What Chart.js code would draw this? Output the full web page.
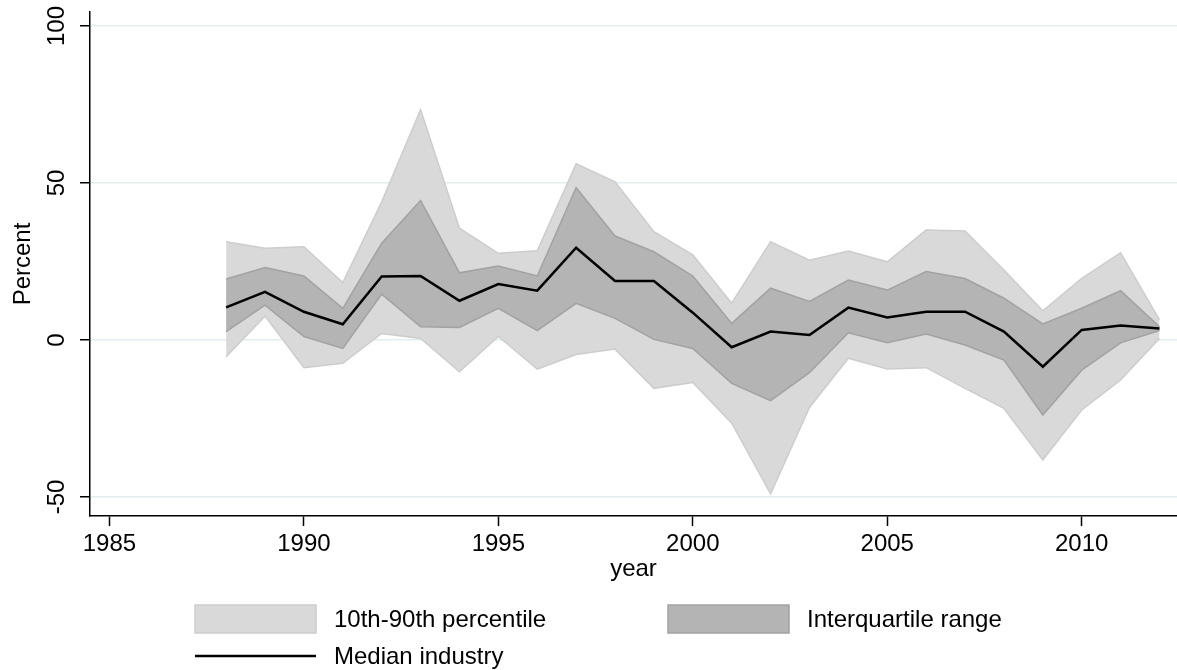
<!DOCTYPE html>
<html>
<head>
<meta charset="utf-8">
<script src="https://cdn.jsdelivr.net/npm/chart.js@4.4.1/dist/chart.umd.min.js"></script>
<style>
  html, body { margin: 0; padding: 0; background: #ffffff; }
  canvas { display: block; }
</style>
</head>
<body>
<canvas id="chart" width="1177" height="670"></canvas>
<script>
// Annual growth distribution across industries (percent)
const years = [1988, 1989, 1990, 1991, 1992, 1993, 1994, 1995, 1996, 1997, 1998, 1999, 2000,
               2001, 2002, 2003, 2004, 2005, 2006, 2007, 2008, 2009, 2010, 2011, 2012];

const p10 = [-5.3, 7.6, -8.8, -7.4, 2.1, 0.5, -10.1, 1.1, -9.3, -4.6, -2.9, -15.4, -13.5,
             -26.5, -49.0, -21.5, -5.8, -9.2, -8.8, -15.4, -21.8, -38.2, -22.3, -12.7, 0.5];

const p25 = [2.7, 11.1, 1.1, -2.7, 14.6, 4.2, 4.0, 10.1, 3.0, 11.7, 6.9, 0.2, -2.7,
             -13.8, -19.3, -10.4, 2.3, -0.9, 1.9, -1.6, -6.4, -23.9, -9.6, -0.9, 3.0];

const median = [10.4, 15.3, 9.0, 5.0, 20.2, 20.4, 12.5, 17.8, 15.7, 29.4, 18.8, 18.8, 8.7,
                -2.3, 2.7, 1.6, 10.3, 7.2, 9.0, 9.0, 2.7, -8.5, 3.2, 4.6, 3.7];

const p75 = [19.4, 23.1, 20.4, 10.1, 30.8, 44.4, 21.4, 23.6, 20.4, 48.5, 33.1, 28.1, 20.4,
             5.3, 16.5, 12.3, 19.1, 15.9, 21.8, 19.6, 13.3, 5.1, 10.1, 15.7, 4.2];

const p90 = [31.3, 29.2, 29.7, 18.3, 44.0, 73.4, 35.6, 27.6, 28.4, 56.1, 50.4, 34.5, 27.1,
             11.7, 31.3, 25.4, 28.3, 24.9, 35.0, 34.7, 22.3, 9.3, 19.6, 27.8, 6.4];

const xTickValues = [1985, 1990, 1995, 2000, 2005, 2010];
const yTickValues = [-50, 0, 50, 100];

const seriesLabels = ['10th-90th percentile', 'Interquartile range', 'Median industry'];
const xTitle = 'year';
const yTitle = 'Percent';

// Colours
const OUTER_FILL = '#d9d9d9';
const OUTER_EDGE = '#cdcdcd';
const INNER_FILL = '#b4b4b4';
const INNER_EDGE = '#a2a2a2';
const MEDIAN_COLOR = '#000000';
const GRID_COLOR = '#e3edef';

const FONT_FAMILY = "'Liberation Sans', Arial, Helvetica, sans-serif";
Chart.defaults.font.family = FONT_FAMILY;
Chart.defaults.font.size = 24;
Chart.defaults.color = '#000000';

function toPoints(values) {
  return years.map((yr, i) => ({ x: yr, y: values[i] }));
}

// Legend drawn below the plot: two filled swatches on the first row, line on the second
const bottomLegend = {
  id: 'bottomLegend',
  afterDraw(chart) {
    const ctx = chart.ctx;
    ctx.save();
    ctx.font = '24px ' + FONT_FAMILY;
    ctx.fillStyle = '#000';
    ctx.textBaseline = 'middle';
    ctx.textAlign = 'left';

    const row1 = 619, row2 = 656;
    const swatchW = 121, swatchH = 28;

    // outer band swatch
    ctx.fillStyle = OUTER_FILL;
    ctx.fillRect(195, row1 - swatchH / 2, swatchW, swatchH);
    ctx.strokeStyle = OUTER_EDGE;
    ctx.lineWidth = 1.5;
    ctx.strokeRect(195, row1 - swatchH / 2, swatchW, swatchH);
    ctx.fillStyle = '#000';
    ctx.fillText(seriesLabels[0], 334, row1 + 1);

    // inner band swatch
    ctx.fillStyle = INNER_FILL;
    ctx.fillRect(668, row1 - swatchH / 2, swatchW, swatchH);
    ctx.strokeStyle = INNER_EDGE;
    ctx.strokeRect(668, row1 - swatchH / 2, swatchW, swatchH);
    ctx.fillStyle = '#000';
    ctx.fillText(seriesLabels[1], 807, row1 + 1);

    // median line
    ctx.strokeStyle = MEDIAN_COLOR;
    ctx.lineWidth = 2.5;
    ctx.beginPath();
    ctx.moveTo(195, row2);
    ctx.lineTo(316, row2);
    ctx.stroke();
    ctx.fillText(seriesLabels[2], 334, row2 + 1);

    ctx.restore();
  }
};

const ctx = document.getElementById('chart').getContext('2d');
new Chart(ctx, {
  type: 'line',
  data: {
    datasets: [
      {
        label: seriesLabels[2],
        data: toPoints(median),
        borderColor: MEDIAN_COLOR,
        borderWidth: 2.5,
        pointRadius: 0,
        fill: false,
        tension: 0
      },
      {
        label: seriesLabels[1],
        data: toPoints(p75),
        borderColor: INNER_EDGE,
        borderWidth: 1.5,
        backgroundColor: INNER_FILL,
        pointRadius: 0,
        fill: '+1',
        tension: 0
      },
      {
        label: 'p25',
        data: toPoints(p25),
        borderColor: INNER_EDGE,
        borderWidth: 1.5,
        pointRadius: 0,
        fill: false,
        tension: 0
      },
      {
        label: seriesLabels[0],
        data: toPoints(p90),
        borderColor: OUTER_EDGE,
        borderWidth: 1.5,
        backgroundColor: OUTER_FILL,
        pointRadius: 0,
        fill: '+1',
        tension: 0
      },
      {
        label: 'p10',
        data: toPoints(p10),
        borderColor: OUTER_EDGE,
        borderWidth: 1.5,
        pointRadius: 0,
        fill: false,
        tension: 0
      }
    ]
  },
  options: {
    responsive: false,
    animation: false,
    events: [],
    layout: { padding: { top: 12, right: 0, bottom: 74, left: 0 } },
    plugins: {
      legend: { display: false },
      tooltip: { enabled: false },
      filler: { drawTime: 'beforeDatasetsDraw' }
    },
    scales: {
      x: {
        type: 'linear',
        min: 1984.5,
        max: 2012.45,
        afterBuildTicks(scale) {
          scale.ticks = xTickValues.map(v => ({ value: v }));
        },
        afterFit(scale) {
          scale.height = 80;
          scale.paddingLeft = 0;
          scale.paddingRight = 0;
        },
        ticks: {
          padding: 4,
          maxRotation: 0,
          minRotation: 0,
          autoSkip: false,
          callback: v => String(v)
        },
        grid: {
          drawOnChartArea: false,
          drawTicks: true,
          tickLength: 10,
          tickColor: '#000',
          tickWidth: 1.5
        },
        border: { display: true, color: '#000', width: 1.5 },
        title: {
          display: true,
          text: xTitle,
          font: { size: 24 },
          padding: { top: 0, bottom: 12 }
        }
      },
      y: {
        type: 'linear',
        min: -56.05,
        max: 104.46,
        afterBuildTicks(scale) {
          scale.ticks = yTickValues.map(v => ({ value: v }));
        },
        afterFit(scale) {
          scale.width = 90;
          scale.paddingTop = 0;
          scale.paddingBottom = 0;
        },
        ticks: {
          padding: 3,
          minRotation: 90,
          maxRotation: 90,
          crossAlign: 'center',
          autoSkip: false,
          callback: v => String(v)
        },
        grid: {
          color: GRID_COLOR,
          lineWidth: 1.5,
          drawTicks: true,
          tickLength: 10,
          tickColor: '#000',
          tickWidth: 1.5
        },
        border: { display: true, color: '#000', width: 1.5 },
        title: {
          display: true,
          text: yTitle,
          font: { size: 24 },
          padding: { top: 9, bottom: 0 }
        }
      }
    }
  },
  plugins: [bottomLegend]
});
</script>
</body>
</html>
